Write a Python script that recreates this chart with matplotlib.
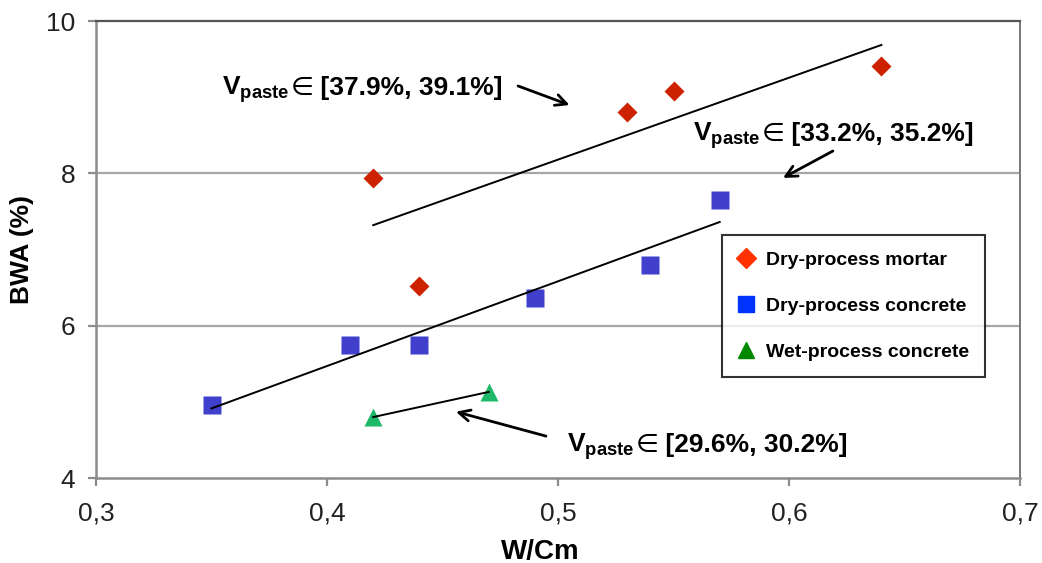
import numpy as np
import matplotlib
matplotlib.use("Agg")
import matplotlib.pyplot as plt
from matplotlib.lines import Line2D

plt.rcParams['font.family'] = ['Liberation Sans', 'DejaVu Sans']
plt.rcParams['mathtext.fontset'] = 'custom'
plt.rcParams['mathtext.rm'] = 'Liberation Sans'
plt.rcParams['mathtext.bf'] = 'Liberation Sans:bold'

# Data
mortar_x = [0.42, 0.44, 0.53, 0.55, 0.64]
mortar_y = [7.94, 6.52, 8.81, 9.08, 9.41]
dry_conc_x = [0.35, 0.41, 0.44, 0.49, 0.54, 0.57]
dry_conc_y = [4.96, 5.75, 5.75, 6.36, 6.80, 7.65]
wet_conc_x = [0.42, 0.47]
wet_conc_y = [4.80, 5.13]

series_labels = ["Dry-process mortar", "Dry-process concrete", "Wet-process concrete"]
x_ticks = [0.3, 0.4, 0.5, 0.6, 0.7]
x_tick_labels = ["0,3", "0,4", "0,5", "0,6", "0,7"]
y_ticks = [4, 6, 8, 10]
y_tick_labels = ["4", "6", "8", "10"]
annot_prefix = r"$\mathbf{V_{paste}}$"
annot_ranges = ["[37.9%, 39.1%]", "[33.2%, 35.2%]", "[29.6%, 30.2%]"]

fig = plt.figure(figsize=(10.42, 5.63), dpi=100)
ax = fig.add_axes([96/1042, 1-478/563, 924/1042, 457/563])
ax.set_xlim(0.3, 0.7)
ax.set_ylim(4, 10)

# grid
for yv in [6, 8]:
    ax.axhline(yv, color='#a6a6a6', lw=1.6, zorder=0)

# trend lines
def trend(xs, ys):
    p = np.polyfit(xs, ys, 1)
    xx = np.array([min(xs), max(xs)])
    ax.plot(xx, np.polyval(p, xx), color='black', lw=1.4, zorder=3)

trend(mortar_x, mortar_y)
trend(dry_conc_x, dry_conc_y)
trend(wet_conc_x, wet_conc_y)

ax.plot(mortar_x, mortar_y, 'D', color='#cc2200', ms=10.5, mec='none', zorder=2)
ax.plot(dry_conc_x, dry_conc_y, 's', color='#4040cc', ms=13.5, mec='none', zorder=2)
ax.plot(wet_conc_x, wet_conc_y, '^', color='#1db868', ms=13, mec='none', zorder=2)

# spines
for s in ['left', 'bottom']:
    ax.spines[s].set_color('#8c8c8c')
    ax.spines[s].set_linewidth(1.8)
ax.spines['top'].set_color('#555555')
ax.spines['top'].set_linewidth(1.6)
ax.spines['right'].set_color('#777777')
ax.spines['right'].set_linewidth(1.4)

ax.set_xticks(x_ticks)
ax.set_xticklabels(x_tick_labels)
ax.set_yticks(y_ticks)
ax.set_yticklabels(y_tick_labels)
ax.tick_params(axis='both', direction='out', length=6, width=1.6, color='#8c8c8c',
               labelsize=19, labelcolor='#222222')
ax.tick_params(axis='x', pad=11)
ax.tick_params(axis='y', pad=9)

ax.set_xlabel("W/Cm", fontsize=20, fontweight='bold')
ax.xaxis.set_label_coords((540-96)/924, -0.133, transform=ax.transAxes)
ax.set_ylabel("BWA (%)", fontsize=19, fontweight='bold')
ax.yaxis.set_label_coords(-0.067, 0.5, transform=ax.transAxes)

# annotations
fig.canvas.draw()
renderer = fig.canvas.get_renderer()
inv = ax.transData.inverted()
annot_pos = [(0.3545, 9.03), (0.5584, 8.43), (0.5039, 4.34)]
for (tx, ty), rng in zip(annot_pos, annot_ranges):
    t1 = ax.text(tx, ty, annot_prefix, fontsize=19, fontweight='bold',
                 ha='left', va='baseline')
    bb = t1.get_window_extent(renderer=renderer)
    x1 = inv.transform((bb.x1 + 1, 0))[0]
    t2 = ax.text(x1, ty, "∈", fontsize=19, fontweight='normal',
                 family=['DejaVu Sans'], ha='left', va='baseline')
    bb2 = t2.get_window_extent(renderer=renderer)
    x2 = inv.transform((bb2.x1, 0))[0]
    ax.text(x2, ty, " " + rng, fontsize=19, fontweight='bold',
            ha='left', va='baseline')

apk = dict(arrowstyle='->,head_length=0.8,head_width=0.4', color='black', lw=2.0,
           shrinkA=0, shrinkB=0)
ax.annotate('', xy=(0.505, 8.897), xytext=(0.4827, 9.147), arrowprops=apk)
ax.annotate('', xy=(0.5974, 7.94), xytext=(0.619, 8.293), arrowprops=apk)
ax.annotate('', xy=(0.4558, 4.87), xytext=(0.4948, 4.55), arrowprops=apk)

# legend
handles = [Line2D([], [], marker='D', color='#ff3300', ls='none', ms=10),
           Line2D([], [], marker='s', color='#0033ff', ls='none', ms=12),
           Line2D([], [], marker='^', color='#008800', ls='none', ms=12)]
leg = ax.legend(handles, series_labels, loc='upper left',
                bbox_to_anchor=((722-96)/924, (478-235)/457), borderaxespad=0,
                prop={'size': 14, 'weight': 'bold'}, fancybox=False, frameon=True,
                edgecolor='black', labelspacing=1.45, borderpad=0.85,
                handlelength=0.8, handletextpad=0.6)
leg.get_frame().set_linewidth(1.5)

fig.savefig("out.png", dpi=100)
